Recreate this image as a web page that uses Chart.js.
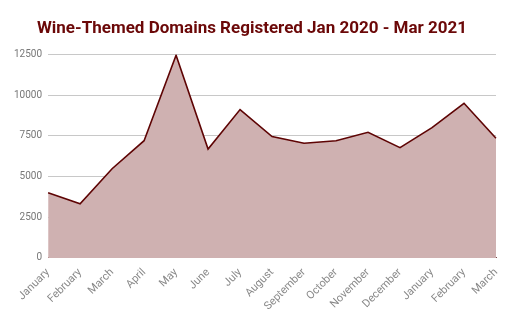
<!DOCTYPE html>
<html>
<head>
<meta charset="utf-8">
<script src="https://cdn.jsdelivr.net/npm/chart.js@4"></script>
<style>
  html, body { margin: 0; padding: 0; background: #fff; }
  #wrap { width: 512px; height: 317px; }
</style>
</head>
<body>
<div id="wrap"><canvas id="lineChart" width="512" height="317"></canvas></div>
<script>
const months = ['January', 'February', 'March', 'April', 'May', 'June', 'July', 'August',
  'September', 'October', 'November', 'December', 'January', 'February', 'March'];
const domains = [4000, 3330, 5480, 7200, 12450, 6690, 9110, 7450, 7040, 7200, 7720, 6770, 8000, 9500, 7350];
const yTicks = [0, 2500, 5000, 7500, 10000, 12500];

const ctx = document.getElementById('lineChart').getContext('2d');
const lineChart = new Chart(ctx, {
  type: 'line',
  data: {
    labels: months,
    datasets: [{
      data: domains,
      borderColor: '#5e0404',
      backgroundColor: '#cfb1b1',
      borderWidth: 1.6,
      fill: 'origin',
      pointRadius: 0,
      tension: 0
    }]
  },
  options: {
    responsive: false,
    animation: false,
    layout: { padding: { left: 8, right: 16, top: 4, bottom: 4 } },
    plugins: {
      legend: { display: false },
      tooltip: { enabled: false },
      title: {
        display: true,
        text: 'Wine-Themed Domains Registered Jan 2020 - Mar 2021',
        color: '#6b0808',
        font: { family: 'Roboto', size: 17, weight: 'bold' },
        padding: { top: 15, bottom: 15 }
      }
    },
    scales: {
      x: {
        grid: { display: false },
        border: { color: '#7a4a4a' },
        ticks: {
          color: '#888',
          padding: 0,
          font: { family: 'Roboto', size: 11 },
          maxRotation: 45,
          minRotation: 45,
          autoSkip: false
        }
      },
      y: {
        min: 0,
        max: yTicks[yTicks.length - 1],
        afterBuildTicks: axis => { axis.ticks = yTicks.map(v => ({ value: v })); },
        grid: { color: '#c8c8c8', drawTicks: false },
        border: { display: false },
        ticks: {
          color: '#777',
          padding: 6,
          font: { family: 'Roboto', size: 10 },
          callback: v => String(v)
        }
      }
    }
  }
});
</script>
</body>
</html>
